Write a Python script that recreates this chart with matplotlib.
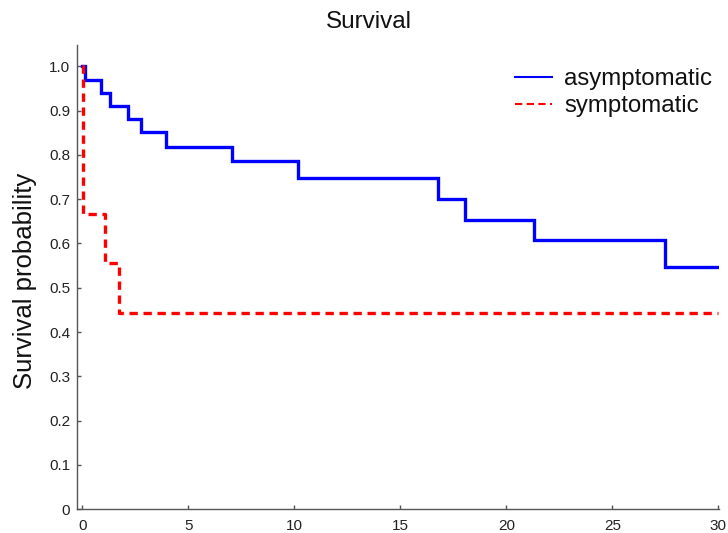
import matplotlib
matplotlib.use("Agg")
import matplotlib.pyplot as plt
from matplotlib.lines import Line2D

plt.rcParams['font.family'] = ['Liberation Sans', 'DejaVu Sans']

# Data
asym_time = [0, 0.1, 0.9, 1.3, 2.15, 2.75, 3.95, 7.05, 10.15, 16.8, 18.05, 21.3, 27.5, 30]
asym_surv = [1.0, 0.970, 0.940, 0.910, 0.881, 0.851, 0.818, 0.786, 0.748, 0.700, 0.653, 0.607, 0.546, 0.546]
sym_time = [0, 0.03, 1.05, 1.75, 30]
sym_surv = [1.0, 0.667, 0.556, 0.444, 0.444]
series_labels = ["asymptomatic", "symptomatic"]
x_ticks = [0, 5, 10, 15, 20, 25, 30]
y_ticks = [0, 0.1, 0.2, 0.3, 0.4, 0.5, 0.6, 0.7, 0.8, 0.9, 1.0]
y_ticklabels = ["0", "0.1", "0.2", "0.3", "0.4", "0.5", "0.6", "0.7", "0.8", "0.9", "1.0"]

W, H = 728, 533
fig = plt.figure(figsize=(W / 100, H / 100), dpi=100)
left, right, bottom, top = 77.3, 718.5, 509.3, 45
ax = fig.add_axes([left / W, 1 - bottom / H, (right - left) / W, (bottom - top) / H])

ax.step(asym_time, asym_surv, where='post', color='#0000ff', lw=2.4, solid_joinstyle='miter')
ax.step(sym_time, sym_surv, where='post', color='#ff0000', lw=2.4, linestyle=(0, (2.5, 1.7)))

ax.set_xlim(-0.24, 30.01)
ax.set_ylim(0, 1.048)
ax.set_xticks(x_ticks)
ax.set_yticks(y_ticks)
ax.set_yticklabels(y_ticklabels)

for s in ['top', 'right']:
    ax.spines[s].set_visible(False)
for s in ['left', 'bottom']:
    ax.spines[s].set_color('#555555')
    ax.spines[s].set_linewidth(1.0)
ax.tick_params(axis='both', direction='in', length=3, width=1.0, color='#555555',
               labelsize=11, labelcolor='#222222')
ax.tick_params(axis='x', pad=7)
ax.tick_params(axis='y', pad=5)

fig.text(369 / W, 1 - 28.3 / H, "Survival", ha='center', va='baseline', fontsize=17.5, color='#111111')
fig.text(25 / W, 1 - 281 / H, "Survival probability", ha='center', va='center', rotation=90,
         fontsize=18.5, color='#111111')

handles = [Line2D([], [], color='#0000ff', lw=1.5),
           Line2D([], [], color='#ff0000', lw=1.5, linestyle=(0, (3.5, 2.1)))]
leg = fig.legend(handles, series_labels, loc='upper left', bbox_to_anchor=(515 / W, 1 - 68 / H),
                 frameon=False, fontsize=17.3, handlelength=1.55, handletextpad=0.5,
                 labelspacing=0.22, borderpad=0, borderaxespad=0)
for t in leg.get_texts():
    t.set_color('#111111')

fig.savefig("out.png", dpi=100)
